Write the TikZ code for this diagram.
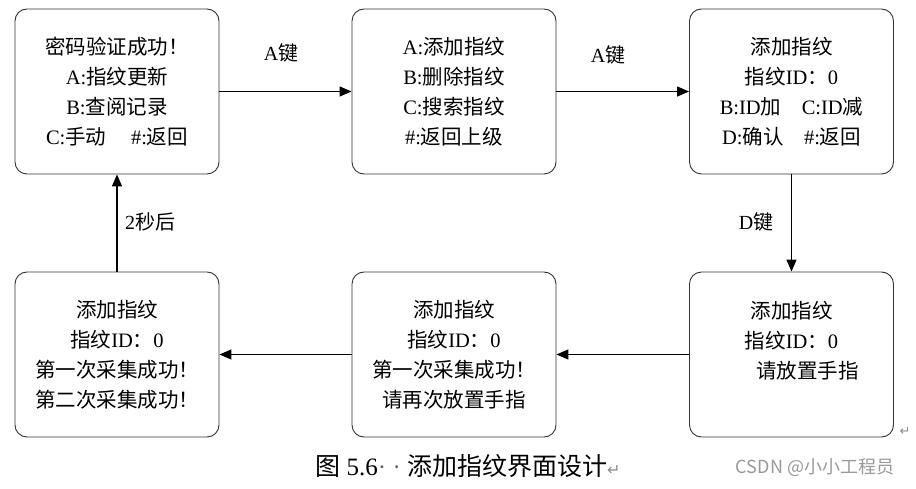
\documentclass[tikz,border=0pt]{standalone}
\usepackage{fontspec}
\setmainfont{Liberation Serif}
\newfontfamily\cjk{Noto Sans CJK SC}
\newfontfamily\markfont{DejaVu Sans}
\newcommand{\hz}[1]{{\cjk #1}}
\newcommand{\retmark}{{\markfont\color{black!45}\char"21B5}}
\usetikzlibrary{arrows.meta}

\tikzset{
  screen/.style={draw=black!80, line width=0.9pt, rounded corners=12pt,
    minimum width=204pt, minimum height=165pt, align=center,
    font=\fontsize{20.5}{30}\selectfont},
  flow/.style={line width=1.3pt, -{Triangle[length=12pt,width=10pt]}},
  keylabel/.style={font=\fontsize{20}{22}\selectfont},
}

\begin{document}
\begin{tikzpicture}[x=1pt,y=1pt]
    \useasboundingbox (0,0) rectangle (916,488);

    \node [screen] (pwdok) at (117,396.5) {\hz{密码验证成功！}\\A:\hz{指纹更新}\\B:\hz{查阅记录}\\C:\hz{手动}\hspace{1.2em}\#:\hz{返回}};
    \node [screen] (fpmenu) at (454,396.5) {A:\hz{添加指纹}\\B:\hz{删除指纹}\\C:\hz{搜索指纹}\\\#:\hz{返回上级}};
    \node [screen] (addfp) at (791.5,396.5) {\hz{添加指纹}\\\hz{指纹}ID\hz{：}0\\B:ID\hz{加}\hspace{1em}C:ID\hz{减}\\D:\hz{确认}\hspace{1em}\#:\hz{返回}};

    \node [screen] (putfp) at (791.5,133.5) {\hz{添加指纹}\\\hz{指纹}ID\hz{：}0\\\hspace*{32pt}\hz{请放置手指}\\\mbox{}};
    \node [screen] (again) at (454,133.5) {\hz{添加指纹}\\\hz{指纹}ID\hz{：}0\\\hz{第一次采集成功！}\\\hz{请再次放置手指}};
    \node [screen] (twice) at (117,133.5) {\hz{添加指纹}\\\hz{指纹}ID\hz{：}0\\\hz{第一次采集成功！}\\\hz{第二次采集成功！}};

    \draw [flow] (pwdok) -- (fpmenu);
    \node [keylabel] (keya) at (281,435) {A\hz{键}};

    \draw [flow] (fpmenu) -- (addfp);
    \node [keylabel] (keyb) at (608,433) {A\hz{键}};

    \draw [flow] (addfp) -- (putfp);
    \node [keylabel] (keyd) at (756,266) {D\hz{键}};

    \draw [flow] (putfp) -- (again);
    \draw [flow] (again) -- (twice);

    \draw [flow] (twice) -- (pwdok);
    \node [keylabel] (wait) at (150,266) {2\hz{秒后}};

    \node [font=\fontsize{13}{13}\selectfont] (ret) at (905,57) {\retmark};
    \node [font=\fontsize{25}{28}\selectfont] (caption) at (468,22) {\hz{图} 5.6{\color{black!60}\textperiodcentered\ \textperiodcentered}\ \hz{添加指纹界面设计}{\fontsize{16}{16}\selectfont\retmark}};
    \node [font=\cjk\fontsize{18}{20}\selectfont, text=black!40] (mark) at (815,20) {CSDN @\hz{小小工程员}};

\end{tikzpicture}
\end{document}
